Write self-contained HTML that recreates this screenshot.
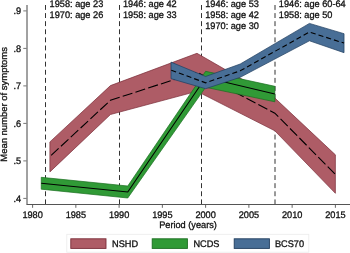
<!DOCTYPE html>
<html><head><meta charset="utf-8"><style>
html,body{margin:0;padding:0;background:#fff;}
svg{display:block;will-change:transform;}
text{-webkit-font-smoothing:antialiased;text-rendering:geometricPrecision;}
text{font-family:"Liberation Sans",sans-serif;font-size:9.2px;fill:#111;stroke:#111;stroke-width:0.3px;}
</style></head><body>
<svg width="350" height="253" viewBox="0 0 350 253">
<line x1="45.5" y1="5" x2="45.5" y2="204" stroke="#333" stroke-width="1" stroke-dasharray="4.9,3.2"/>
<line x1="119.5" y1="5" x2="119.5" y2="204" stroke="#333" stroke-width="1" stroke-dasharray="4.9,3.2"/>
<line x1="201.5" y1="5" x2="201.5" y2="204" stroke="#333" stroke-width="1" stroke-dasharray="4.9,3.2"/>
<line x1="275.0" y1="5" x2="275.0" y2="204" stroke="#333" stroke-width="1" stroke-dasharray="4.9,3.2"/>
<polygon points="49.90,141.90 110.46,85.60 196.97,53.30 274.83,98.00 335.38,154.80 335.38,193.30 274.83,130.80 196.97,91.30 110.46,114.50 49.90,171.90" fill="#ae5c66" stroke="#7a2c38" stroke-width="0.7"/>
<polyline points="49.90,156.50 110.46,100.30 196.97,72.20 274.83,113.20 335.38,174.30" fill="none" stroke="#000" stroke-width="1.1" stroke-dasharray="10.2,3.2" stroke-dashoffset="-1.7"/>
<polygon points="41.25,177.30 127.76,186.00 205.62,71.30 274.83,86.30 274.83,101.80 205.62,87.30 127.76,198.00 41.25,189.20" fill="#309a36" stroke="#1a6e20" stroke-width="0.7"/>
<polyline points="41.25,183.20 127.76,192.00 205.62,77.50 274.83,94.00" fill="none" stroke="#000" stroke-width="1.1"/>
<polygon points="171.02,62.10 205.62,76.50 240.22,64.00 309.43,23.40 344.04,33.70 344.04,52.70 309.43,40.80 240.22,77.30 205.62,88.70 171.02,78.70" fill="#486e96" stroke="#203d5e" stroke-width="0.7"/>
<polyline points="171.02,70.20 205.62,82.80 240.22,70.80 309.43,32.00 344.04,43.10" fill="none" stroke="#000" stroke-width="1.1" stroke-dasharray="5.1,3.0" stroke-dashoffset="-0.3"/>
<line x1="27" y1="5" x2="27" y2="204.5" stroke="#444" stroke-width="1"/>
<line x1="26.5" y1="204.5" x2="350" y2="204.5" stroke="#555" stroke-width="1"/>
<line x1="23.3" y1="198.40" x2="26.6" y2="198.40" stroke="#666" stroke-width="0.9"/>
<text transform="translate(21.20,201.70) scale(1,1.04)" text-anchor="end">.4</text>
<line x1="23.3" y1="160.90" x2="26.6" y2="160.90" stroke="#666" stroke-width="0.9"/>
<text transform="translate(21.20,164.20) scale(1,1.04)" text-anchor="end">.5</text>
<line x1="23.3" y1="123.40" x2="26.6" y2="123.40" stroke="#666" stroke-width="0.9"/>
<text transform="translate(21.20,126.70) scale(1,1.04)" text-anchor="end">.6</text>
<line x1="23.3" y1="85.90" x2="26.6" y2="85.90" stroke="#666" stroke-width="0.9"/>
<text transform="translate(21.20,89.20) scale(1,1.04)" text-anchor="end">.7</text>
<line x1="23.3" y1="48.40" x2="26.6" y2="48.40" stroke="#666" stroke-width="0.9"/>
<text transform="translate(21.20,51.70) scale(1,1.04)" text-anchor="end">.8</text>
<line x1="23.3" y1="10.90" x2="26.6" y2="10.90" stroke="#666" stroke-width="0.9"/>
<text transform="translate(21.20,14.20) scale(1,1.04)" text-anchor="end">.9</text>
<line x1="32.60" y1="204.5" x2="32.60" y2="207.8" stroke="#555" stroke-width="0.9"/>
<text transform="translate(32.60,218.40) scale(1,1.04)" text-anchor="middle">1980</text>
<line x1="75.85" y1="204.5" x2="75.85" y2="207.8" stroke="#555" stroke-width="0.9"/>
<text transform="translate(75.85,218.40) scale(1,1.04)" text-anchor="middle">1985</text>
<line x1="119.11" y1="204.5" x2="119.11" y2="207.8" stroke="#555" stroke-width="0.9"/>
<text transform="translate(119.11,218.40) scale(1,1.04)" text-anchor="middle">1990</text>
<line x1="162.36" y1="204.5" x2="162.36" y2="207.8" stroke="#555" stroke-width="0.9"/>
<text transform="translate(162.36,218.40) scale(1,1.04)" text-anchor="middle">1995</text>
<line x1="205.62" y1="204.5" x2="205.62" y2="207.8" stroke="#555" stroke-width="0.9"/>
<text transform="translate(205.62,218.40) scale(1,1.04)" text-anchor="middle">2000</text>
<line x1="248.88" y1="204.5" x2="248.88" y2="207.8" stroke="#555" stroke-width="0.9"/>
<text transform="translate(248.88,218.40) scale(1,1.04)" text-anchor="middle">2005</text>
<line x1="292.13" y1="204.5" x2="292.13" y2="207.8" stroke="#555" stroke-width="0.9"/>
<text transform="translate(292.13,218.40) scale(1,1.04)" text-anchor="middle">2010</text>
<line x1="335.38" y1="204.5" x2="335.38" y2="207.8" stroke="#555" stroke-width="0.9"/>
<text transform="translate(335.38,218.40) scale(1,1.04)" text-anchor="middle">2015</text>
<text transform="translate(188.00,227.70) scale(1,1.04)" text-anchor="middle">Period (years)</text>
<text transform="translate(7.00,104.40) scale(1,1.03) rotate(-90)" text-anchor="middle">Mean number of symptoms</text>
<text transform="translate(49.60,6.60) scale(1,1.04)">1958: age 23</text>
<text transform="translate(49.60,17.70) scale(1,1.04)">1970: age 26</text>
<text transform="translate(123.00,6.60) scale(1,1.04)">1946: age 42</text>
<text transform="translate(123.00,17.70) scale(1,1.04)">1958: age 33</text>
<text transform="translate(205.20,6.60) scale(1,1.04)">1946: age 53</text>
<text transform="translate(205.20,17.70) scale(1,1.04)">1958: age 42</text>
<text transform="translate(205.20,28.80) scale(1,1.04)">1970: age 30</text>
<text transform="translate(278.80,6.60) scale(1,1.04)">1946: age 60-64</text>
<text transform="translate(278.80,17.70) scale(1,1.04)">1958: age 50</text>
<rect x="66.8" y="234.3" width="242" height="17.9" fill="#fff" stroke="#ececec" stroke-width="0.8"/>
<rect x="70.8" y="238.8" width="35.2" height="9.6" fill="#ae5c66" stroke="#7a2c38" stroke-width="0.9"/>
<text transform="translate(112.10,246.70) scale(1,1.04)">NSHD</text>
<rect x="152.2" y="238.8" width="35.2" height="9.6" fill="#309a36" stroke="#1a6e20" stroke-width="0.9"/>
<text transform="translate(193.40,246.70) scale(1,1.04)">NCDS</text>
<rect x="234.2" y="238.8" width="35.2" height="9.6" fill="#486e96" stroke="#203d5e" stroke-width="0.9"/>
<text transform="translate(274.90,246.70) scale(1,1.04)">BCS70</text>
</svg>
</body></html>
